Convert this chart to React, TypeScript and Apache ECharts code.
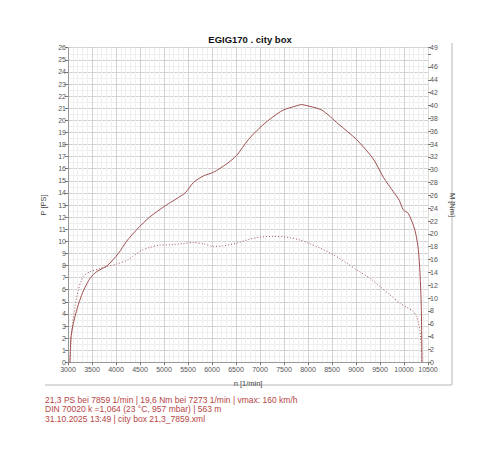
import React, { useEffect, useRef } from "react";
import * as echarts from "echarts";

const titleText = "EGIG170 . city box";
const infoLines = [
  "21,3 PS bei 7859 1/min | 19,6 Nm bei 7273 1/min | vmax: 160 km/h",
  "DIN 70020 k =1,064 (23 °C, 957 mbar) | 563 m",
  "31.10.2025 13:49 | city box 21,3_7859.xml",
];

const powerRpm = [3040, 3050, 3060, 3100, 3160, 3235, 3330, 3470, 3600, 3820, 4050, 4220, 4440, 4700, 5050, 5440, 5611, 5819, 6027, 6306, 6514, 6757, 7000, 7208, 7486, 7764, 7859, 7937, 8285, 8632, 9014, 9361, 9569, 9778, 9900, 9986, 10090, 10229, 10299, 10333, 10360, 10375];
const powerPS = [0, 1, 2, 3, 4, 5, 6, 7, 7.5, 8, 9, 10, 11, 12, 13, 14, 14.85, 15.4, 15.7, 16.4, 17.1, 18.4, 19.4, 20.1, 20.85, 21.2, 21.3, 21.25, 20.85, 19.7, 18.4, 16.8, 15.3, 14.1, 13.4, 12.6, 12.3, 10.9, 9.3, 7.4, 4.6, 0];

const torqueRpm = [3045, 3055, 3062, 3097, 3146, 3215, 3319, 3458, 3667, 3806, 4014, 4257, 4500, 4708, 4917, 5125, 5403, 5611, 5819, 6028, 6236, 6514, 6792, 7000, 7273, 7486, 7625, 7833, 8007, 8250, 8528, 8806, 9014, 9292, 9500, 9708, 9917, 10056, 10194, 10264, 10299, 10333, 10354, 10370];
const torqueNm = [0, 2, 3, 6.1, 8.7, 11.3, 13.4, 14.1, 14.6, 14.9, 15.3, 16, 17.3, 17.9, 18.25, 18.3, 18.5, 18.66, 18.45, 18.05, 18.15, 18.55, 19.2, 19.5, 19.6, 19.55, 19.4, 19.05, 18.56, 17.8, 16.75, 15.45, 14.4, 13.1, 11.8, 10.5, 9.2, 8.6, 7.9, 7.1, 6.1, 5.0, 3.0, 0];

const xMin = 3000, xMax = 10500, xStep = 500;
const pMin = 0, pMax = 26, pStep = 1;
const mMin = 0, mMax = 49, mStep = 2;

export default function App() {
  const ref = useRef<HTMLDivElement>(null);
  useEffect(() => {
    if (!ref.current) return;
    const chart = echarts.init(ref.current, null, { renderer: "svg" });
    const font = "Liberation Sans, Arial, sans-serif";
    const labelStyle = { fontSize: 7, color: "#555", fontFamily: font };
    chart.setOption({
      animation: false,
      backgroundColor: "#fff",
      title: {
        text: titleText,
        left: "center",
        top: 29,
        textStyle: { fontSize: 9.5, fontWeight: "bold", color: "#111", fontFamily: font },
      },
      grid: { left: 68, right: 72, top: 47.7, bottom: 98.7 },
      xAxis: {
        type: "value",
        min: xMin,
        max: xMax,
        interval: xStep,
        name: "n [1/min]",
        nameLocation: "middle",
        nameGap: 17,
        nameTextStyle: { fontSize: 7.5, color: "#444", fontFamily: font },
        axisLine: { show: true, lineStyle: { color: "#999", width: 1 } },
        axisTick: { show: true, length: 3, lineStyle: { color: "#777" } },
        axisLabel: { ...labelStyle, margin: 4, formatter: (v: number) => String(v) },
        splitLine: { show: true, lineStyle: { color: "#d2d2d2", width: 1 } },
        minorTick: { show: false, splitNumber: 5 },
        minorSplitLine: { show: true, lineStyle: { color: "#efefef", width: 1 } },
      },
      yAxis: [
        {
          type: "value",
          min: pMin,
          max: pMax,
          interval: pStep,
          name: "P [PS]",
          nameLocation: "middle",
          nameRotate: 90,
          nameGap: 17,
          nameTextStyle: { fontSize: 7.5, color: "#444", fontFamily: font },
          axisLine: { show: true, lineStyle: { color: "#999", width: 1 } },
          axisTick: { show: true, length: 3, lineStyle: { color: "#777" } },
          axisLabel: { ...labelStyle, margin: 2, formatter: (v: number) => String(v) },
          splitLine: { show: true, lineStyle: { color: "#d2d2d2", width: 1 } },
          minorTick: { show: false, splitNumber: 2 },
          minorSplitLine: { show: true, lineStyle: { color: "#efefef", width: 1 } },
        },
        {
          type: "value",
          min: mMin,
          max: mMax,
          interval: mStep,
          position: "right",
          name: "M [Nm]",
          nameLocation: "middle",
          nameRotate: -90,
          nameGap: 19,
          nameTextStyle: { fontSize: 7.5, color: "#444", fontFamily: font },
          axisLine: { show: true, lineStyle: { color: "#ddd", width: 1 } },
          axisTick: { show: true, length: 3, lineStyle: { color: "#777" } },
          axisLabel: {
            ...labelStyle,
            margin: 2,
            showMaxLabel: true,
            formatter: (v: number) => (v === 48 ? "" : String(v)),
          },
          splitLine: { show: false },
        },
      ],
      series: [
        {
          name: "P",
          type: "line",
          yAxisIndex: 0,
          showSymbol: false,
          smooth: 0.25,
          data: powerRpm.map((r, i) => [r, powerPS[i]]),
          lineStyle: { color: "#9e4f4f", width: 1 },
        },
        {
          name: "M",
          type: "line",
          yAxisIndex: 1,
          showSymbol: false,
          smooth: 0.25,
          data: torqueRpm.map((r, i) => [r, torqueNm[i]]),
          lineStyle: { color: "#a05a5a", width: 1, type: [1, 2] },
        },
      ],
      graphic: [
        { type: "line", shape: { x1: 452, y1: 43, x2: 452, y2: 385 }, style: { stroke: "#cfcfcf", lineWidth: 1.5 } },
        { type: "line", shape: { x1: 45, y1: 385, x2: 452, y2: 385 }, style: { stroke: "#cfcfcf", lineWidth: 1.5 } },
        ...infoLines.map((t, i) => ({
          type: "text",
          left: 45,
          top: 395 + i * 9.7,
          style: { text: t, fontSize: 8.5, fill: "#b54545", fontFamily: font },
        })),
      ],
    });
    return () => chart.dispose();
  }, []);
  return <div ref={ref} style={{ position: "fixed", left: 0, top: 0, width: 500, height: 461 }} />;
}
